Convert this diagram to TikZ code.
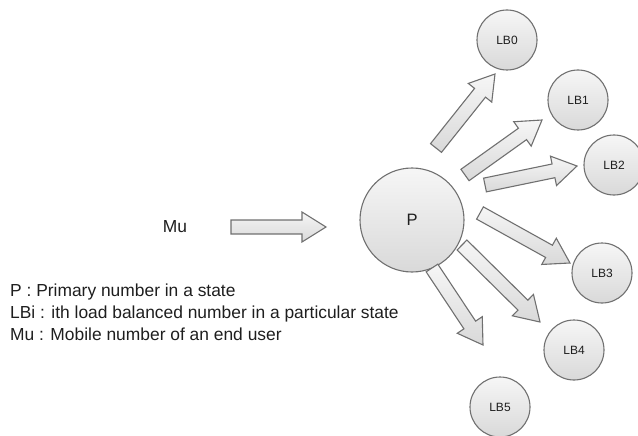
\documentclass[tikz,border=0pt]{standalone}
\usepackage{fontspec}
\setmainfont{Liberation Sans}
\usetikzlibrary{calc}
\definecolor{edgegray}{HTML}{707070}
\definecolor{filltop}{HTML}{F6F6F6}
\definecolor{fillbot}{HTML}{D9D9D9}
\definecolor{txt}{HTML}{1E1E1E}
\newcommand{\blockarrow}[3]{% name, tail, tip
  \coordinate (#1h) at ($(#3)!24pt!(#2)$);
  \path[blockarr] ($(#2)!7pt!-90:(#3)$) -- ($(#1h)!7pt!-90:(#3)$) -- ($(#1h)!15pt!-90:(#3)$) -- (#3)
    -- ($(#1h)!15pt!90:(#3)$) -- ($(#1h)!7pt!90:(#3)$) -- ($(#2)!7pt!90:(#3)$) -- cycle;
}
\begin{document}
\begin{tikzpicture}[x=1pt,y=-1pt,
  bub/.style={circle, draw=edgegray, line width=1.1pt, top color=filltop, bottom color=fillbot,
    inner sep=0pt, minimum size=60pt, text=txt, font=\fontsize{12}{14}\selectfont},
  bigbub/.style={bub, minimum size=104pt, font=\fontsize{16.5}{19}\selectfont},
  blockarr/.style={draw=edgegray, line width=1.1pt, top color=filltop, bottom color=fillbot, line join=miter},
  lbl/.style={text=txt, font=\fontsize{17.4}{20}\selectfont, inner sep=0pt}]
\useasboundingbox (0,0) rectangle (638,436);

\node[bigbub] (P) at (412,220) {P};
\node[bub] (LB0) at (507,40) {LB0};
\node[bub] (LB1) at (578,100) {LB1};
\node[bub] (LB2) at (614,165) {LB2};
\node[bub] (LB3) at (602,273) {LB3};
\node[bub] (LB4) at (574,350) {LB4};
\node[bub] (LB5) at (500,407) {LB5};

\node[lbl] (Mu) at (175,227) {Mu};

\coordinate (t0) at (436,148); \coordinate (e0) at (495,74);
\coordinate (t1) at (465,175); \coordinate (e1) at (542,120);
\coordinate (t2) at (485,185); \coordinate (e2) at (577,166);
\coordinate (t3) at (480,213); \coordinate (e3) at (570,263);
\coordinate (t4) at (462,245); \coordinate (e4) at (540,322);
\coordinate (t5) at (432,268); \coordinate (e5) at (483,345);
\coordinate (tm) at (231,227); \coordinate (em) at (326,227);

\blockarrow{a0}{t0}{e0}
\blockarrow{a1}{t1}{e1}
\blockarrow{a2}{t2}{e2}
\blockarrow{a3}{t3}{e3}
\blockarrow{a4}{t4}{e4}
\blockarrow{a5}{t5}{e5}
\blockarrow{am}{tm}{em}

\node[lbl, anchor=base west] (L1) at (10,296) {P : Primary number in a state};
\node[lbl, anchor=base west] (L2) at (10,318) {LBi : ith load balanced number in a particular state};
\node[lbl, anchor=base west] (L3) at (10,340) {Mu : Mobile number of an end user};
\end{tikzpicture}
\end{document}
